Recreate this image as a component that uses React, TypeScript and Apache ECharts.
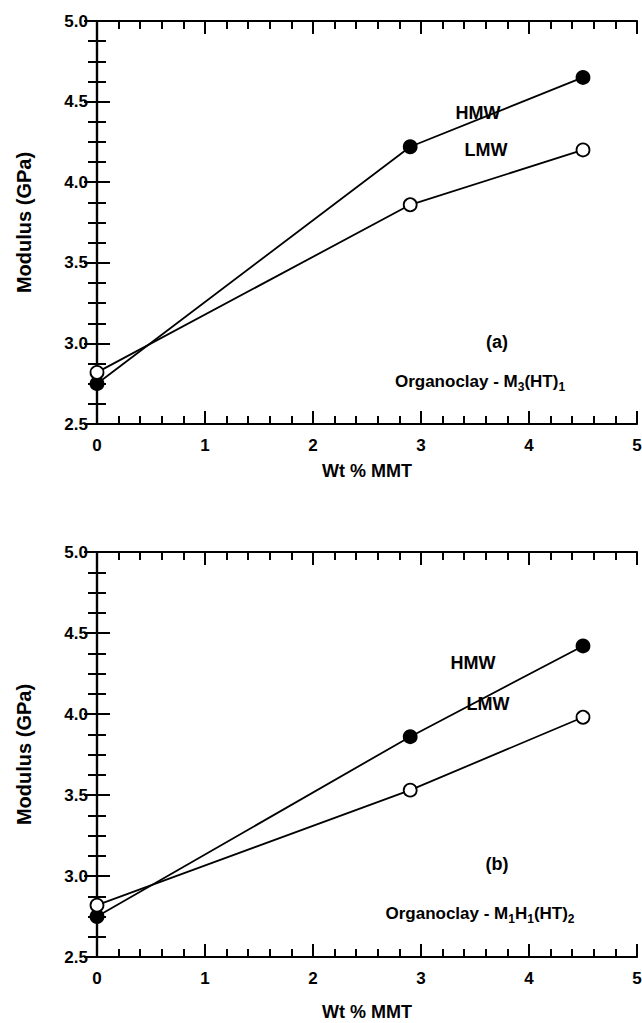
import React, { useEffect, useRef } from "react";
import * as echarts from "echarts";

const wtPct = [0, 2.9, 4.5];
const hmwA = [2.75, 4.22, 4.65];
const lmwA = [2.82, 3.86, 4.2];
const hmwB = [2.75, 3.86, 4.42];
const lmwB = [2.82, 3.53, 3.98];
const xTicks = [0, 1, 2, 3, 4, 5];
const yTicks = [2.5, 3.0, 3.5, 4.0, 4.5, 5.0];

const FONT = "'Liberation Sans', Arial, sans-serif";

function pairs(xs: number[], ys: number[]) {
  return xs.map((x, i) => [x, ys[i]]);
}

export default function App() {
  const ref = useRef<HTMLDivElement>(null);
  useEffect(() => {
    if (!ref.current) return;
    const chart = echarts.init(ref.current, undefined, { renderer: "svg" });
    const axisLine = { show: true, lineStyle: { color: "#000", width: 2.2 } };
    const axisTick = { show: true, inside: true, length: 13, lineStyle: { color: "#000", width: 2 } };
    const labelStyle = { color: "#000", fontWeight: "bold" as const, fontSize: 17, fontFamily: FONT };
    const mkX = (grid: number, pos: "bottom" | "top", label: boolean, gap: number) => ({
      type: "value",
      gridIndex: grid,
      position: pos,
      min: xTicks[0],
      max: xTicks[xTicks.length - 1],
      interval: 1,
      axisLine,
      axisTick,
      minorTick: { show: true, splitNumber: 5, length: 8, lineStyle: { color: "#000", width: 2 } },
      splitLine: { show: false },
      axisLabel: { show: label, margin: 13, ...labelStyle, formatter: (v: number) => String(v) },
      name: label ? "Wt % MMT" : "",
      nameLocation: "middle",
      nameGap: gap,
      nameTextStyle: { color: "#000", fontWeight: "bold", fontSize: 18, fontFamily: FONT },
    });
    const mkY = (grid: number, pos: "left" | "right", label: boolean) => ({
      type: "value",
      gridIndex: grid,
      position: pos,
      min: yTicks[0],
      max: yTicks[yTicks.length - 1],
      interval: 0.5,
      axisLine,
      axisTick,
      minorTick: { show: true, splitNumber: 4, length: 9, lineStyle: { color: "#000", width: 2 } },
      splitLine: { show: false },
      axisLabel: { show: label, margin: 9, ...labelStyle, formatter: (v: number) => v.toFixed(1) },
      name: label ? "Modulus (GPa)" : "",
      nameLocation: "middle",
      nameGap: 63,
      nameTextStyle: { color: "#000", fontWeight: "bold", fontSize: 20, fontFamily: FONT },
    });
    const lineSeries = (name: string, xi: number, yi: number, data: number[][], filled: boolean) => ({
      type: "line",
      name,
      xAxisIndex: xi,
      yAxisIndex: yi,
      data,
      clip: false,
      symbol: "circle",
      symbolSize: 13,
      lineStyle: { color: "#000", width: 1.8 },
      itemStyle: { color: filled ? "#000" : "#fff", borderColor: "#000", borderWidth: 1.8 },
      z: 5,
    });
    const txt = (x: number, y: number, text: string, size = 18) => ({
      type: "text",
      x,
      y,
      z: 10,
      style: {
        text,
        fill: "#000",
        font: `bold ${size}px ${FONT}`,
        align: "center",
        verticalAlign: "middle",
      },
    });
    const subTxt = (x: number, y: number, text: string) => ({
      type: "text",
      x,
      y,
      z: 10,
      style: {
        text,
        fill: "#000",
        fontWeight: "bold",
        fontSize: 17,
        fontFamily: FONT,
        align: "center",
        verticalAlign: "middle",
        lineHeight: 24,
        rich: {
          n: { fontWeight: "bold", fontSize: 17, fontFamily: FONT, lineHeight: 24, fill: "#000" },
          s: { fontWeight: "bold", fontSize: 12, fontFamily: FONT, lineHeight: 24, verticalAlign: "bottom", fill: "#000" },
        },
      },
    });
    chart.setOption({
      animation: false,
      backgroundColor: "#fff",
      grid: [
        { left: 97, top: 21, width: 540, height: 403, outerBoundsMode: "none", containLabel: false },
        { left: 97, top: 552, width: 540, height: 405, outerBoundsMode: "none", containLabel: false },
      ],
      xAxis: [mkX(0, "bottom", true, 38), mkX(0, "top", false, 0), mkX(1, "bottom", true, 46), mkX(1, "top", false, 0)],
      yAxis: [mkY(0, "left", true), mkY(0, "right", false), mkY(1, "left", true), mkY(1, "right", false)],
      series: [
        lineSeries("HMW", 0, 0, pairs(wtPct, hmwA), true),
        lineSeries("LMW", 0, 0, pairs(wtPct, lmwA), false),
        lineSeries("HMW", 2, 2, pairs(wtPct, hmwB), true),
        lineSeries("LMW", 2, 2, pairs(wtPct, lmwB), false),
      ],
      graphic: [
        txt(478, 113, "HMW"),
        txt(486, 150, "LMW"),
        txt(497, 342, "(a)"),
        subTxt(480, 381, "{n|Organoclay - M}{s|3}{n|(HT)}{s|1}"),
        txt(473, 663, "HMW"),
        txt(488, 704, "LMW"),
        txt(497, 864, "(b)"),
        subTxt(480, 913, "{n|Organoclay - M}{s|1}{n|H}{s|1}{n|(HT)}{s|2}"),
      ],
    });
    return () => chart.dispose();
  }, []);
  return <div ref={ref} style={{ position: "fixed", left: 0, top: 0, width: 642, height: 1023 }} />;
}
